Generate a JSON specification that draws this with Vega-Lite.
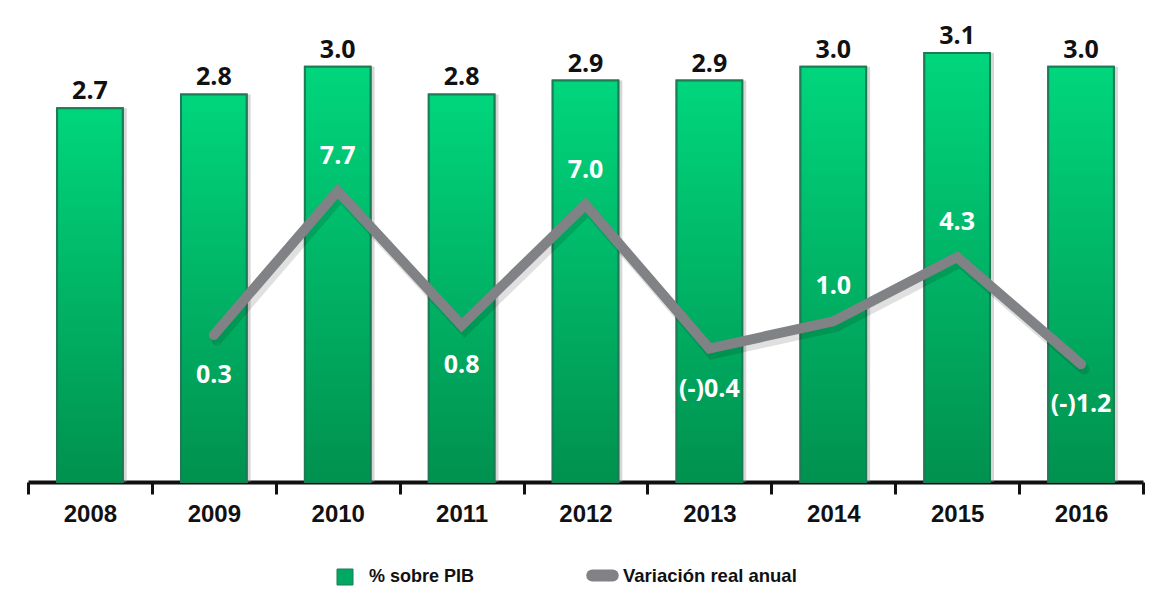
{
  "$schema": "https://vega.github.io/schema/vega-lite/v6.json",
  "width": 1115,
  "height": 462,
  "autosize": {"type": "none"},
  "padding": {"left": 28, "top": 20, "right": 22, "bottom": 132},
  "background": "white",
  "config": {
    "view": {"stroke": null},
    "axis": {
      "title": null,
      "labelFont": "Liberation Sans",
      "labelFontWeight": "bold",
      "labelFontSize": 24,
      "labelColor": "#111111",
      "domainColor": "#111111",
      "domainWidth": 4,
      "tickColor": "#111111",
      "tickWidth": 3,
      "tickSize": 12,
      "tickBand": "extent",
      "labelPadding": 8,
      "labelAngle": 0,
      "zindex": 1
    },
    "legend": {
      "title": null,
      "labelFont": "Liberation Sans",
      "labelFontWeight": "bold",
      "labelFontSize": 18,
      "labelColor": "#111111",
      "labelLimit": 400,
      "padding": 0
    }
  },
  "data": {
    "values": [
      {"year": "2008", "pib": 2.7, "var": null, "label": null, "pos": null},
      {"year": "2009", "pib": 2.8, "var": 0.3, "label": "0.3", "pos": "below"},
      {"year": "2010", "pib": 3.0, "var": 7.7, "label": "7.7", "pos": "above"},
      {"year": "2011", "pib": 2.8, "var": 0.8, "label": "0.8", "pos": "below"},
      {"year": "2012", "pib": 2.9, "var": 7.0, "label": "7.0", "pos": "above"},
      {"year": "2013", "pib": 2.9, "var": -0.4, "label": "(-)0.4", "pos": "below"},
      {"year": "2014", "pib": 3.0, "var": 1.0, "label": "1.0", "pos": "above"},
      {"year": "2015", "pib": 3.1, "var": 4.3, "label": "4.3", "pos": "above"},
      {"year": "2016", "pib": 3.0, "var": -1.2, "label": "(-)1.2", "pos": "below"}
    ]
  },
  "encoding": {
    "x": {
      "field": "year",
      "type": "nominal",
      "scale": {"paddingInner": 0, "paddingOuter": 0},
      "axis": {}
    }
  },
  "layer": [
    {
      "encoding": {
        "y": {
          "field": "pib",
          "type": "quantitative",
          "scale": {"domain": [0, 3.338], "nice": false, "zero": true},
          "axis": null
        }
      },
      "layer": [
        {
          "mark": {"type": "bar", "width": {"band": 0.53}, "fill": "#9a9a9a", "opacity": 0.4, "xOffset": 4}
        },
        {
          "mark": {"type": "bar", "width": {"band": 0.53}, "stroke": "#1f7a56", "strokeWidth": 2},
          "encoding": {
            "fill": {
              "datum": "% sobre PIB",
              "type": "nominal",
              "scale": {"range": ["#00a862"]},
              "legend": {
                "orient": "none",
                "legendX": 308,
                "legendY": 548,
                "symbolType": "square",
                "symbolSize": 256,
                "symbolStrokeColor": "#1f7a56",
                "symbolStrokeWidth": 1,
                "labelOffset": 15
              }
            }
          }
        },
        {
          "mark": {
            "type": "bar",
            "width": {"band": 0.53},
            "stroke": "#1f7a56",
            "strokeWidth": 2,
            "fill": {"gradient": "linear", "x1": 0, "y1": 0, "x2": 0, "y2": 1,
              "stops": [{"offset": 0, "color": "#00d67d"}, {"offset": 1, "color": "#00914f"}]}
          }
        },
        {
          "mark": {"type": "text", "font": "Open Sans", "fontWeight": "bold", "fontSize": 25, "color": "#111111", "baseline": "alphabetic", "dy": -9},
          "encoding": {"text": {"field": "pib", "type": "quantitative", "format": ".1f"}}
        }
      ]
    },
    {
      "transform": [{"filter": "datum['var'] != null"}],
      "encoding": {
        "y": {
          "field": "var",
          "type": "quantitative",
          "scale": {"domain": [-7.26, 16.49], "nice": false, "zero": false},
          "axis": null
        }
      },
      "layer": [
        {
          "mark": {"type": "line", "strokeWidth": 11, "strokeCap": "round", "strokeJoin": "miter", "color": "#000000", "opacity": 0.12, "xOffset": 3, "yOffset": 5}
        },
        {
          "mark": {"type": "line", "strokeWidth": 10, "strokeCap": "round", "strokeJoin": "miter"},
          "encoding": {
            "stroke": {
              "datum": "Variación real anual",
              "type": "nominal",
              "scale": {"range": ["#808285"]},
              "legend": {
                "orient": "none",
                "legendX": 558,
                "legendY": 539,
                "symbolType": "stroke",
                "symbolSize": 420,
                "symbolStrokeWidth": 12,
                "labelOffset": 4,
                "labelFontSize": 18.5,
                "encode": {"symbols": {"update": {"strokeCap": {"value": "round"}}}}
              }
            }
          }
        },
        {
          "transform": [{"filter": "datum.pos == 'above'"}],
          "mark": {"type": "text", "font": "Open Sans", "fontWeight": "bold", "fontSize": 25, "color": "white", "baseline": "middle", "dy": -35},
          "encoding": {"text": {"field": "label", "type": "nominal"}}
        },
        {
          "transform": [{"filter": "datum.pos == 'below'"}],
          "mark": {"type": "text", "font": "Open Sans", "fontWeight": "bold", "fontSize": 25, "color": "white", "baseline": "middle", "dy": 40},
          "encoding": {"text": {"field": "label", "type": "nominal"}}
        }
      ]
    }
  ],
  "resolve": {"scale": {"y": "independent"}}
}
